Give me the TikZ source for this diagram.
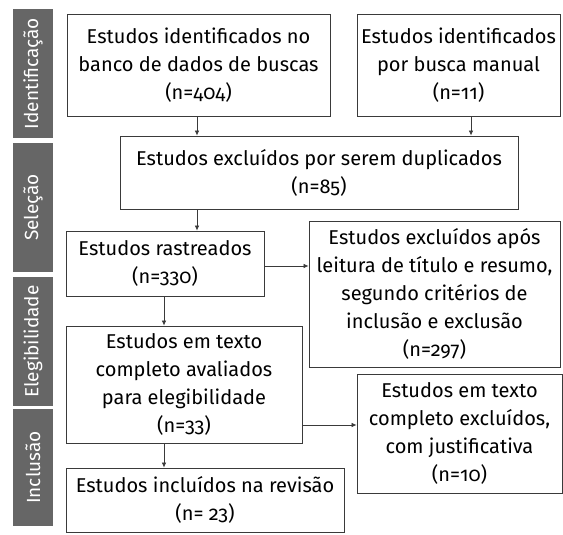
\documentclass[tikz,border=0pt]{standalone}
\usepackage{fontspec}
\setmainfont{Fira Sans}[Numbers=OldStyle]
\usetikzlibrary{arrows.meta}
\definecolor{bargray}{HTML}{666666}
\definecolor{linegray}{HTML}{3A3A3A}
\tikzset{
  box/.style={draw=linegray, line width=0.9pt, align=center, inner sep=0pt,
    font=\fontsize{20}{28}\selectfont, text=black},
  bar/.style={fill=bargray, draw=none, minimum height=40pt, inner sep=0pt,
    text=white, font=\fontsize{19}{22}\selectfont, rotate=90},
  arr/.style={draw=linegray, line width=0.7pt, -{Latex[length=5pt,width=4.5pt]}}
}
\begin{document}
\begin{tikzpicture}[x=1pt,y=1pt]
\useasboundingbox (0,0) rectangle (563,-535);
% side bars
\node[bar, minimum width=129pt] (s1) at (33,-73.5) {Identificação};
\node[bar, minimum width=129pt] (s2) at (33,-207.5) {Seleção};
\node[bar, minimum width=129pt] (s3) at (33,-341.5) {Elegibilidade};
\node[bar, minimum width=117pt] (s4) at (33,-467.5) {Inclusão};
% boxes
\node[box, minimum width=263pt, minimum height=102pt] (b1) at (198.5,-65)
  {Estudos identificados no\\banco de dados de buscas\\(n=404)};
\node[box, minimum width=203pt, minimum height=102pt] (b2) at (458.5,-65)
  {Estudos identificados\\por busca manual\\(n=11)};
\node[box, minimum width=398pt, minimum height=73pt] (b3) at (319,-172.5)
  {Estudos excluídos por serem duplicados\\(n=85)};
\node[box, minimum width=198pt, minimum height=65pt] (b4) at (165,-263.5)
  {Estudos rastreados\\(n=330)};
\node[box, minimum width=251pt, minimum height=146pt] (b5) at (434.5,-294)
  {Estudos excluídos após\\leitura de título e resumo,\\segundo critérios de\\inclusão e exclusão\\(n=297)};
\node[box, minimum width=236pt, minimum height=117pt] (b6) at (184,-384.5)
  {Estudos em texto\\completo avaliados\\para elegibilidade\\(n=33)};
\node[box, minimum width=205pt, minimum height=119pt] (b7) at (459.5,-433.5)
  {Estudos em texto\\completo excluídos,\\com justificativa\\(n=10)};
\node[box, minimum width=278pt, minimum height=64pt] (b8) at (205,-500)
  {Estudos incluídos na revisão\\(n= 23)};
% connectors
\coordinate (c1) at ([xshift=-1.5pt]b1.south);
\coordinate (c2) at ([xshift=12.5pt]b2.south);
\draw[arr] (c1) -- (c1 |- b3.north);
\draw[arr] (c2) -- (c2 |- b3.north);
\draw[arr] (c1 |- b3.south) -- (c1 |- b4.north);
\coordinate (c4) at ([xshift=-1pt]b4.south);
\draw[arr] (c4) -- (c4 |- b6.north);
\draw[arr] (c4 |- b6.south) -- (c4 |- b8.north);
\coordinate (c5) at ([yshift=-2.5pt]b4.east);
\draw[arr] (c5) -- (c5 -| b5.west);
\coordinate (c6) at ([yshift=-40.5pt]b6.east);
\draw[arr] (c6) -- (c6 -| b7.west);
\end{tikzpicture}
\end{document}
